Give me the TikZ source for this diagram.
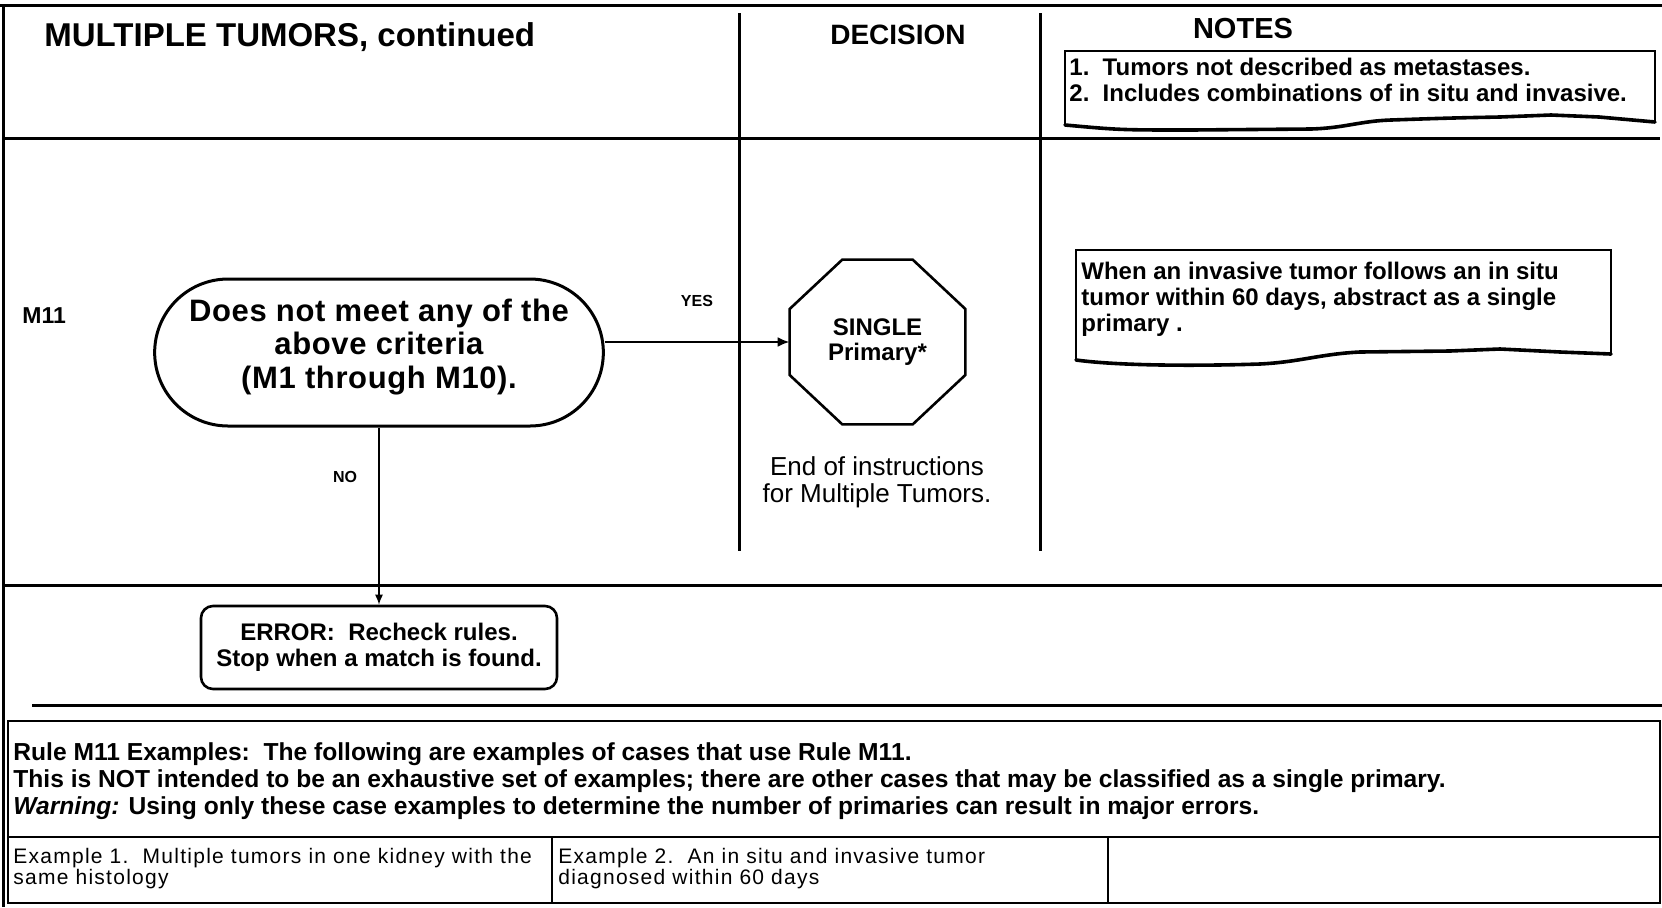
\documentclass[tikz,border=0pt]{standalone}
\usepackage{fontspec}
\setmainfont{Liberation Sans}
\usetikzlibrary{shapes.misc,arrows.meta,calc}
\begin{document}
\begin{tikzpicture}[x=0.5pt,y=-0.5pt,
  rule/.style={line width=1.5pt},
  cell/.style={line width=1pt},
  hdr/.style={font=\bfseries\fontsize{14}{16}\selectfont, inner sep=0pt},
  notetxt/.style={font=\bfseries\fontsize{12}{13}\selectfont, align=left, inner sep=0pt},
  notebox/.style={line width=1pt},
  wave/.style={line width=1.8pt, line join=round, line cap=round},
  term/.style={rounded rectangle, draw, line width=1.5pt, minimum width=231pt, minimum height=73.5pt, align=center, text depth=9pt, font=\bfseries\fontsize{15.5}{16.75}\selectfont\addfontfeatures{LetterSpace=2}},
  stopbox/.style={minimum width=87.5pt, minimum height=82pt, align=center, inner sep=0pt, font=\bfseries\fontsize{12}{12.5}\selectfont},
  errbox/.style={draw, rounded corners=6pt, line width=1.3pt, minimum width=178pt, minimum height=41.5pt, align=center, font=\bfseries\fontsize{12}{13}\selectfont},
  lbl/.style={font=\bfseries\fontsize{8}{9}\selectfont, inner sep=0pt},
  yesarrow/.style={line width=1.4pt, -{Latex[length=6pt,width=5pt]}},
  noarrow/.style={line width=0.7pt, -{Latex[length=5pt,width=4pt]}},
  exc/.style={font=\fontsize{10.5}{10.5}\selectfont\addfontfeatures{LetterSpace=6}, align=left, inner sep=0pt}
]
\useasboundingbox (0,0) rectangle (1662,907);

% frame
\draw[rule] (0,5) -- (1662,5);
\draw[rule] (3,5) -- (3,907);
\draw[rule] (3,138) -- (1660,138);
\draw[rule] (3,585) -- (1662,585);
\draw[rule] (739,13) -- (739,551);
\draw[rule] (1040,13) -- (1040,551);
\draw[rule] (32,705) -- (1662,705);

% headers
\node[hdr, anchor=west, font=\bfseries\fontsize{16.5}{18}\selectfont] (title) at (44,37) {MULTIPLE TUMORS, continued};
\node[hdr] (decision) at (898,35) {DECISION};
\node[hdr, font=\bfseries\fontsize{14.5}{16}\selectfont] (notes) at (1243,29) {NOTES};

% notes box 1
\draw[notebox] (1065,125) -- (1065,51) -- (1655,51) -- (1655,122);
\draw[wave] (1065,125) .. controls (1120,130) .. (1191,130) -- (1311,129)
  .. controls (1345,128) and (1360,121) .. (1391,120)
  .. controls (1450,118) .. (1500,117) -- (1551,115) -- (1599,117) -- (1655,122);
\node[notetxt, anchor=west] (n1) at (1069,80) {1.\ \ Tumors not described as metastases.\\2.\ \ Includes combinations of in situ and invasive.};

% notes box 2
\draw[notebox] (1076,360) -- (1076,250) -- (1611,250) -- (1611,354);
\draw[wave] (1076,360) .. controls (1120,366) and (1200,366) .. (1260,364)
  .. controls (1300,362) and (1320,354) .. (1360,352) -- (1450,351) -- (1500,349) -- (1560,352) -- (1611,354);
\node[notetxt, anchor=west] (n2) at (1081,299) {When an invasive tumor follows an in situ\\tumor within 60 days, abstract as a single\\primary .};

% rule label
\node[anchor=west, inner sep=0pt, font=\bfseries\fontsize{11.5}{12}\selectfont] (m11) at (22,316) {M11};

% flow
\node[term] (stad) at (379,352.5) {Does not meet any of the\\above criteria\\(M1 through M10).};
\node[stopbox] (single) at (877.5,342) {SINGLE\\Primary*};
\draw[line width=1.3pt, line join=miter]
  ($(single.north west)!0.3!(single.north east)$) -- ($(single.north west)!0.7!(single.north east)$)
  -- ($(single.north east)!0.3!(single.south east)$) -- ($(single.north east)!0.7!(single.south east)$)
  -- ($(single.south east)!0.3!(single.south west)$) -- ($(single.south east)!0.7!(single.south west)$)
  -- ($(single.south west)!0.3!(single.north west)$) -- ($(single.south west)!0.7!(single.north west)$)
  -- cycle;
\node[align=center, inner sep=0pt, font=\fontsize{13}{13.5}\selectfont] (endtxt) at (877,482) {End of instructions\\for Multiple Tumors.};
\node[errbox] (err) at (379,647.5) {ERROR:\ \ Recheck rules.\\Stop when a match is found.};

\draw[yesarrow] (single.west -| stad.east) -- (single.west);
\draw[noarrow] (stad.south) -- (err.north);
\node[lbl] (yes) at (697,301) {YES};
\node[lbl] (no) at (345,477) {NO};

% examples
\draw[cell] (8,721) rectangle (1660,903);
\draw[cell] (8,837) -- (1660,837);
\draw[cell] (552,837) -- (552,903);
\draw[cell] (1108,837) -- (1108,903);
\node[anchor=west, align=left, inner sep=0pt, font=\bfseries\fontsize{12.3}{13.4}\selectfont] (ex) at (13,781)
 {Rule M11 Examples:\ \ The following are examples of cases that use Rule M11.\\
  This is NOT intended to be an exhaustive set of examples; there are other cases that may be classified as a single primary.\\
  \textit{Warning:} Using only these case examples to determine the number of primaries can result in major errors.};
\node[exc, anchor=north west] (ex1) at (13,848) {Example 1.\ \ Multiple tumors in one kidney with the\\same histology};
\node[exc, anchor=north west] (ex2) at (558,848) {Example 2.\ \ An in situ and invasive tumor\\diagnosed within 60 days};
\end{tikzpicture}
\end{document}
